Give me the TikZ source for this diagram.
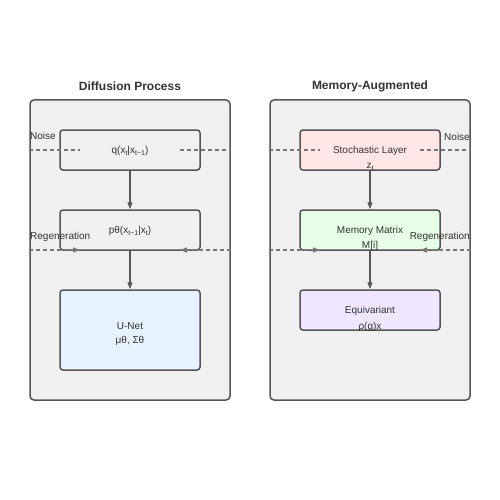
\documentclass[tikz,border=0pt]{standalone}
\usepackage{fontspec}
\setmainfont{Liberation Sans}
\usetikzlibrary{arrows.meta}
\definecolor{stroke}{HTML}{555555}
\definecolor{panelbg}{HTML}{F0F0F0}
\definecolor{txt}{HTML}{333333}
\definecolor{dashc}{HTML}{777777}
\definecolor{pinkf}{HTML}{FFE6E6}
\definecolor{greenf}{HTML}{E6FFE6}
\definecolor{bluef}{HTML}{E6F2FF}
\definecolor{purplef}{HTML}{F0E6FF}
\newcommand{\sbs}[1]{\raisebox{-0.35ex}{\fontsize{7}{7}\selectfont #1}}
\tikzset{
  panel/.style={draw=stroke, fill=panelbg, line width=1.5pt, rounded corners=4pt, inner sep=0pt, minimum width=200pt},
  blk/.style={draw=stroke, line width=1.5pt, rounded corners=3pt, inner sep=0pt, minimum width=140pt},
  lbl/.style={text=txt, font=\fontsize{10}{12}\selectfont, inner sep=0pt},
  ttl/.style={text=txt, font=\fontsize{12}{14}\selectfont\bfseries, inner sep=0pt},
  flow/.style={draw=stroke, line width=1.5pt, -{Triangle[length=7pt,width=5pt]}},
  dashln/.style={draw=dashc, line width=1.5pt, dash pattern=on 4pt off 3pt},
  dasharr/.style={dashln, -{Triangle[length=7pt,width=5pt]}},
}
\begin{document}
\begin{tikzpicture}[x=1pt,y=-1pt]
\useasboundingbox[fill=white] (0,0) rectangle (500,500);
% panels
\node[panel, minimum height=300pt] (PL) at (130,250) {};
\node[panel, minimum height=300pt] (PR) at (370,250) {};
\node[ttl] (TL) at (130,86) {Diffusion Process};
\node[ttl] (TR) at (370,86) {Memory-Augmented};
% left boxes
\node[blk, minimum height=40pt] (Q) at (130,150) {};
\node[blk, minimum height=40pt] (P) at (130,230) {};
\node[blk, fill=bluef, minimum height=80pt] (U) at (130,330) {};
% right boxes
\node[blk, fill=pinkf, minimum height=40pt] (S) at (370,150) {};
\node[blk, fill=greenf, minimum height=40pt] (M) at (370,230) {};
\node[blk, fill=purplef, minimum height=40pt] (E) at (370,310) {};
% texts
\node[lbl] (Qt) at (130,151) {q(x\sbs{t}|x\sbs{t−1})};
\node[lbl] (Pt) at (130,231) {pθ(x\sbs{t−1}|x\sbs{t})};
\node[lbl] (Ut1) at (130,326.5) {U-Net};
\node[lbl] (Ut2) at (130,341) {μθ, Σθ};
\node[lbl] (St1) at (370,151) {Stochastic Layer};
\node[lbl] (St2) at (370,167) {z\sbs{t}};
\node[lbl] (Mt1) at (370,231) {Memory Matrix};
\node[lbl] (Mt2) at (370,246) {M[i]};
\node[lbl] (Et1) at (370,311) {Equivariant};
\node[lbl] (Et2) at (370,327) {ρ(g)x};
% flow arrows
\draw[flow] (Q.south) -- (P.north);
\draw[flow] (P.south) -- (U.north);
\draw[flow] (S.south) -- (M.north);
\draw[flow] (M.south) -- (E.north);
% noise dashed lines
\coordinate (nl1) at (80,150); \coordinate (nl2) at (180,150);
\coordinate (nr1) at (320,150); \coordinate (nr2) at (420,150);
\draw[dashln] (PL.west |- nl1) -- (nl1);
\draw[dashln] (nl2) -- (PL.east |- nl2);
\draw[dashln] (PR.west |- nr1) -- (nr1);
\draw[dashln] (nr2) -- (PR.east |- nr2);
% regeneration dashed arrows
\coordinate (rl1) at (80,250); \coordinate (rl2) at (180,250);
\coordinate (rr1) at (320,250); \coordinate (rr2) at (420,250);
\draw[dasharr] (PL.west |- rl1) -- (rl1);
\draw[dasharr] (PL.east |- rl2) -- (rl2);
\draw[dasharr] (PR.west |- rr1) -- (rr1);
\draw[dasharr] (PR.east |- rr2) -- (rr2);
% side labels
\node[lbl, anchor=west] (NL) at (30,136) {Noise};
\node[lbl, anchor=east] (NR) at (470,136.5) {Noise};
\node[lbl, anchor=west] (RL) at (30,236.5) {Regeneration};
\node[lbl, anchor=east] (RR) at (470,236.5) {Regeneration};
\end{tikzpicture}
\end{document}
